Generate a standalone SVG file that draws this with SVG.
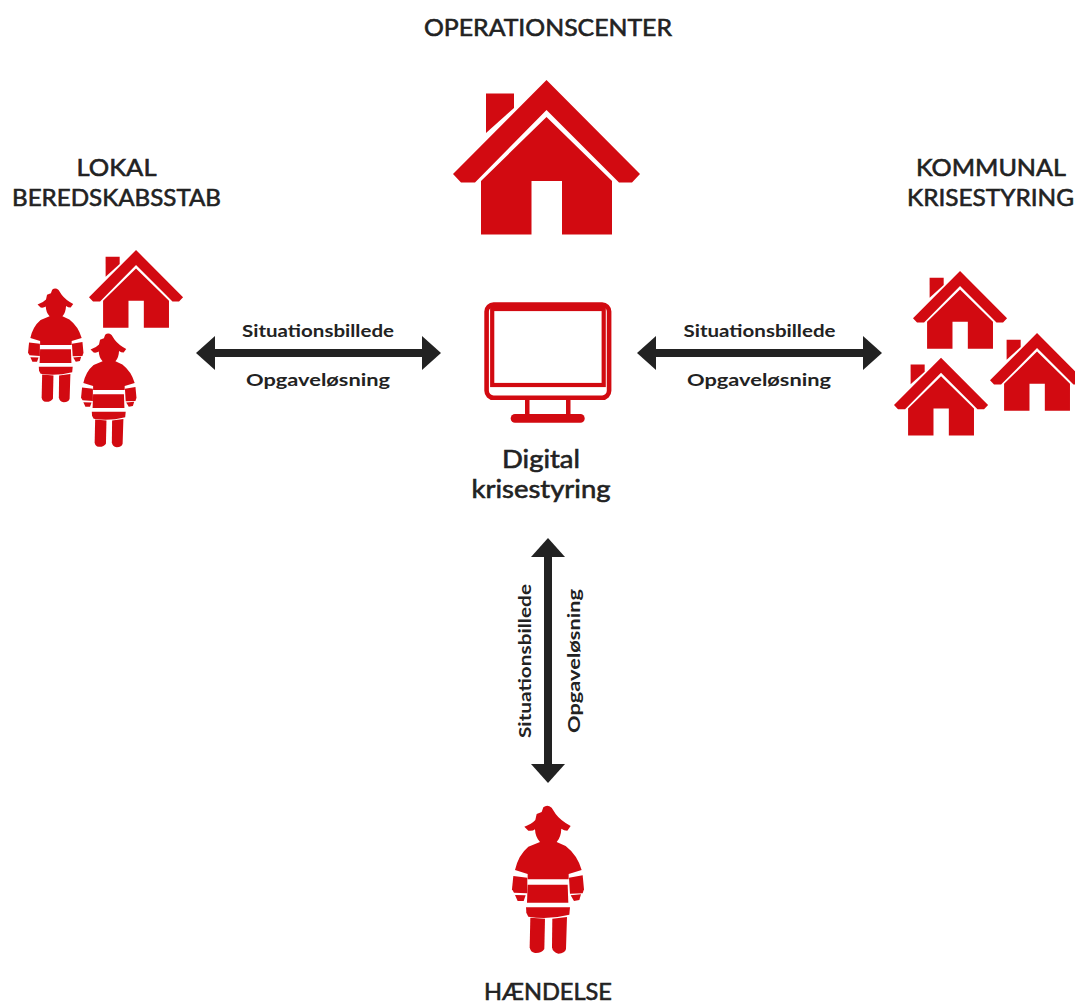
<svg xmlns="http://www.w3.org/2000/svg" width="1075" height="1004" viewBox="0 0 1075 1004">
<style>
.red{fill:#d20a11}
.h{font-family:"Lato","Liberation Sans",sans-serif;font-weight:400;font-size:24px;fill:#222;stroke:#222;stroke-width:.6px;text-anchor:middle}
.m{font-family:"Lato","Liberation Sans",sans-serif;font-weight:400;font-size:25px;fill:#222;stroke:#222;stroke-width:.6px;text-anchor:middle}
.s{font-family:"Lato","Liberation Sans",sans-serif;font-weight:700;font-size:17px;fill:#222;text-anchor:middle}
.c{stroke:#222;stroke-width:8;fill:none;marker-start:url(#ah);marker-end:url(#ah)}
</style>
<defs>
<marker id="ah" markerUnits="userSpaceOnUse" markerWidth="19" markerHeight="34" refX="1" refY="17" orient="auto-start-reverse"><path d="M0 0L19 17L0 34Z" fill="#222"/></marker>
<g id="house">
<path d="M93.5 0L187 94L179 102.500L166 102.500L93.500 30L22 102.500L8 102.500L0 94Z"/>
<path d="M33 13.500H61V28L33 53Z"/>
<path d="M93.500 37L159 101V154.500H109V101H78.500V154.500H28V101Z"/>
</g>
<g id="fire">
<path d="M73 80Q95 72 106 60L110 42L125 36L130 22Q142 12 155 23L167 42Q182 62 212 78L202 92Q192 92 184 86Q183 112 170 126L197 138Q232 165 245 210L206 222V238H83V222L45 210Q55 165 85 140L120 126Q106 112 105 88Q98 94 85 92Z"/>
<path d="M40 228L82 233V280L42 278L36 268Z"/>
<path d="M207 233L248 226L252 268L248 280L210 281Z"/>
<path d="M45 285L77 286L71 303L53 303Z"/>
<path d="M212 286L243 283L238 300L222 303Z"/>
<path d="M83 254H203L205 308H81Z"/>
<path d="M78 322H210L208 344Q145 360 85 350L79 338Z"/>
<path d="M91 353L135 356L133 447Q125 460 105 459Q91 457 89 442Z"/>
<path d="M157 356L201 351L198 447Q195 460 175 461Q158 457 156 442Z"/>
</g>
</defs>
<g id="connectors">
<line class="c" x1="214" y1="353" x2="423" y2="353"/>
<line class="c" x1="655" y1="353" x2="864" y2="353"/>
<line class="c" x1="548" y1="556" x2="548" y2="765"/>
</g>
<g id="operationscenter">
<text class="h" x="548" y="36" textLength="248" lengthAdjust="spacingAndGlyphs">OPERATIONSCENTER</text>
<use href="#house" class="red" x="453" y="80"/>
</g>
<g id="lokal-beredskabsstab">
<text class="h" x="116.500" y="176" textLength="80" lengthAdjust="spacingAndGlyphs">LOKAL</text>
<text class="h" x="116.500" y="206" textLength="209" lengthAdjust="spacingAndGlyphs">BEREDSKABSSTAB</text>
<use href="#house" class="red" transform="translate(89 250) scale(.503)"/>
<use href="#fire" class="red" transform="translate(18.800 284) scale(.2567)"/>
<use href="#fire" class="red" transform="translate(71.800 329) scale(.2567)"/>
</g>
<g id="digital-krisestyring">
<g fill="none" stroke="#d20a11">
<rect x="486.600" y="304.600" width="122.500" height="93.200" rx="7" stroke-width="4.600"/>
<rect x="492.200" y="309" width="111.500" height="76" stroke-width="4.200"/>
</g>
<g class="red">
<rect x="525" y="400" width="4.500" height="14"/>
<rect x="566" y="400" width="4.500" height="14"/>
<rect x="510.700" y="414" width="74" height="8.700" rx="4.300"/>
</g>
<text class="m" x="541" y="468" textLength="78" lengthAdjust="spacingAndGlyphs">Digital</text>
<text class="m" x="541" y="498" textLength="139" lengthAdjust="spacingAndGlyphs">krisestyring</text>
</g>
<g id="kommunal-krisestyring">
<text class="h" x="991" y="176" textLength="150" lengthAdjust="spacingAndGlyphs">KOMMUNAL</text>
<text class="h" x="990.500" y="206" textLength="167" lengthAdjust="spacingAndGlyphs">KRISESTYRING</text>
<use href="#house" class="red" transform="translate(913 271) scale(.503)"/>
<use href="#house" class="red" transform="translate(990 333) scale(.503)"/>
<use href="#house" class="red" transform="translate(894 357.700) scale(.503)"/>
</g>
<g id="haendelse">
<use href="#fire" class="red" transform="translate(500 800) scale(.3333)"/>
<text class="h" x="548" y="1000" textLength="128" lengthAdjust="spacingAndGlyphs">HÆNDELSE</text>
</g>
<g id="labels">
<text class="s" x="318" y="337" textLength="152" lengthAdjust="spacingAndGlyphs">Situationsbillede</text>
<text class="s" x="318" y="386" textLength="144" lengthAdjust="spacingAndGlyphs">Opgaveløsning</text>
<text class="s" x="759.500" y="337" textLength="152" lengthAdjust="spacingAndGlyphs">Situationsbillede</text>
<text class="s" x="759" y="386" textLength="144" lengthAdjust="spacingAndGlyphs">Opgaveløsning</text>
<text class="s" transform="translate(531 661) rotate(-90)" textLength="154" lengthAdjust="spacingAndGlyphs">Situationsbillede</text>
<text class="s" transform="translate(580 661) rotate(-90)" textLength="144" lengthAdjust="spacingAndGlyphs">Opgaveløsning</text>
</g>
</svg>
